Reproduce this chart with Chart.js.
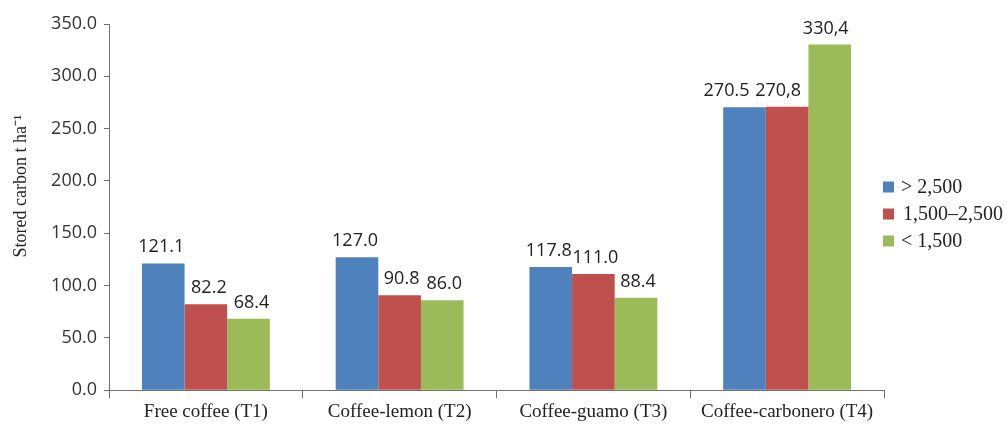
<!DOCTYPE html>
<html>
<head>
<meta charset="utf-8">
<script src="https://cdn.jsdelivr.net/npm/chart.js@4/dist/chart.umd.min.js"></script>
<style>
html,body{margin:0;padding:0;background:#fff;}
#wrap{width:1007px;height:425px;position:relative;}
</style>
</head>
<body>
<div id="wrap"><canvas id="c" width="1007" height="425"></canvas></div>
<script>
const categories = ["Free coffee (T1)", "Coffee-lemon (T2)", "Coffee-guamo (T3)", "Coffee-carbonero (T4)"];
const seriesNames = ["> 2,500", "1,500\u20132,500", "< 1,500"];
const highValues = [121.1, 127.0, 117.8, 270.5];
const midValues = [82.2, 90.8, 111.0, 270.8];
const lowValues = [68.4, 86.0, 88.4, 330.4];
const highLabels = ["121.1", "127.0", "117.8", "270.5"];
const midLabels = ["82.2", "90.8", "111.0", "270,8"];
const lowLabels = ["68.4", "86.0", "88.4", "330,4"];
const yTicks = [0, 50, 100, 150, 200, 250, 300, 350];
const yTitle = "Stored carbon t ha\u207B\u00B9";

const colors = ["#4F81BD", "#C0504D", "#9BBB59"];
const labelSets = [highLabels, midLabels, lowLabels];

const valueLabels = {
  id: 'valueLabels',
  afterDatasetsDraw(chart) {
    const ctx = chart.ctx;
    // small horizontal nudges so crowded labels do not overlap (as in the reference)
    const nudge = [[-2, -2, -2, -18], [3, 2, 2, -9], [3, 2, 2, -4]];
    ctx.save();
    ctx.font = '18px "Open Sans", sans-serif';
    ctx.fillStyle = '#222';
    ctx.textAlign = 'center';
    ctx.textBaseline = 'alphabetic';
    chart.data.datasets.forEach((ds, i) => {
      const meta = chart.getDatasetMeta(i);
      meta.data.forEach((bar, j) => {
        ctx.fillText(labelSets[i][j], bar.x + nudge[i][j], bar.y - 11);
      });
    });
    ctx.restore();
  }
};

const sideLegend = {
  id: 'sideLegend',
  afterDraw(chart) {
    const ctx = chart.ctx;
    const a = chart.chartArea;
    ctx.save();
    // y-axis title
    ctx.font = '18px "Liberation Serif", serif';
    ctx.fillStyle = '#222';
    ctx.textAlign = 'center';
    ctx.textBaseline = 'middle';
    ctx.translate(21, 186);
    ctx.rotate(-Math.PI / 2);
    ctx.fillText(yTitle, 0, 0);
    ctx.restore();

    ctx.save();
    ctx.font = '20px "Liberation Serif", serif';
    ctx.textBaseline = 'middle';
    ctx.textAlign = 'left';
    const cy = 214;
    chart.data.datasets.forEach((ds, i) => {
      const y = cy + (i - 1) * 27;
      ctx.fillStyle = ds.backgroundColor;
      ctx.fillRect(a.right - 1, y - 5.5, 11, 11);
      ctx.fillStyle = '#222';
      ctx.fillText(ds.label, a.right + (i === 1 ? 19 : 17), y + 1);
    });
    ctx.restore();
  }
};

new Chart(document.getElementById('c'), {
  type: 'bar',
  data: {
    labels: categories,
    datasets: [
      { label: seriesNames[0], data: highValues, backgroundColor: colors[0] },
      { label: seriesNames[1], data: midValues, backgroundColor: colors[1] },
      { label: seriesNames[2], data: lowValues, backgroundColor: colors[2] }
    ]
  },
  options: {
    responsive: false,
    animation: false,
    datasets: { bar: { categoryPercentage: 0.66, barPercentage: 1.0, borderWidth: 0 } },
    layout: { padding: { left: 46, top: 24, right: 123, bottom: 0 } },
    plugins: {
      legend: { display: false },
      tooltip: { enabled: false }
    },
    scales: {
      x: {
        grid: { display: true, drawOnChartArea: false, offset: true, color: '#707070', tickLength: 8 },
        border: { color: '#707070', width: 1 },
        ticks: { color: '#222', padding: 2, font: { family: '"Liberation Serif", serif', size: 19 } }
      },
      y: {
        min: 0, max: 350,
        afterBuildTicks(axis) { axis.ticks = yTicks.map(v => ({ value: v })); },
        afterFit(axis) { axis.width = 63; },
        grid: { display: true, drawOnChartArea: false, color: '#707070', tickLength: 5 },
        border: { color: '#707070', width: 1 },
        ticks: {
          color: '#333', padding: 7,
          font: { family: '"Open Sans", sans-serif', size: 18 },
          callback: v => Number(v).toFixed(1)
        },
        title: { display: false }
      }
    }
  },
  plugins: [valueLabels, sideLegend]
});
</script>
</body>
</html>
